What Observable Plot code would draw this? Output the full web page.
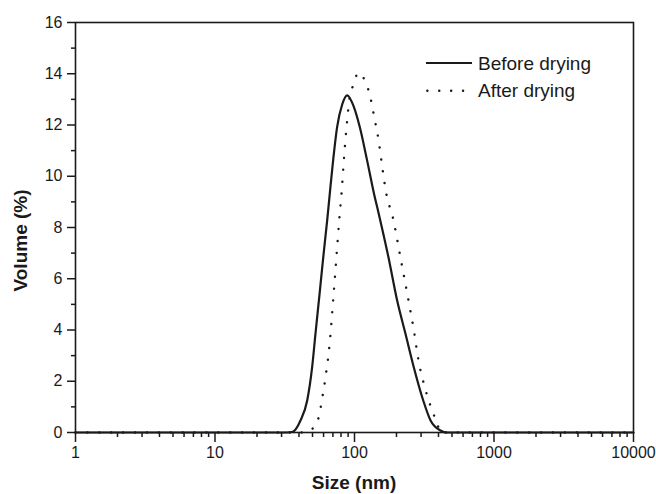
<!DOCTYPE html>
<html>
<head>
<meta charset="utf-8">
<script src="https://cdn.jsdelivr.net/npm/d3@7"></script>
<script src="https://cdn.jsdelivr.net/npm/@observablehq/plot@0.6"></script>
<style>
  html, body { margin: 0; padding: 0; background: #fff; }
  #wrap { position: relative; width: 656px; height: 494px; font-family: "Liberation Sans", Arial, sans-serif; }
  #overlay { position: absolute; left: 0; top: 0; pointer-events: none; }
</style>
</head>
<body>
<div id="wrap"></div>
<script>
// Series names
const seriesNames = ["Before drying", "After drying"];

// Before drying (solid)
const beforeSize = [1, 30, 35.7, 41, 45.8, 49.7, 52.5, 56.4, 60, 63.7, 66.5, 70.3, 75.1, 81.6, 88.7, 98.9, 109, 123, 138, 149, 175, 202, 232, 266, 311, 351, 413, 462, 10000];
const beforeVol  = [0, 0, 0.02, 0.47, 1.25, 2.55, 3.85, 5.5, 6.95, 8.28, 9.32, 10.63, 11.93, 12.8, 13.16, 12.71, 11.93, 10.63, 9.32, 8.55, 6.85, 5.16, 3.85, 2.55, 1.25, 0.47, 0.08, 0, 0];

// After drying (dotted)
const afterSize = [1, 42, 44.5, 52.5, 56.1, 58.3, 62, 66.5, 70, 74, 78, 80.7, 83.9, 87.7, 92.6, 97.8, 107, 121, 129, 134, 140, 150, 158, 169, 188, 214, 245, 264, 289, 319, 360, 392, 413, 10000];
const afterVol  = [0, 0, 0.02, 0.27, 0.73, 1.25, 2.16, 3.53, 5.03, 6.75, 8.4, 9.32, 10.63, 11.93, 13.1, 13.55, 14.04, 13.62, 13.16, 12.71, 12.19, 11.28, 10.37, 9.32, 8.41, 6.8, 5.09, 4.11, 2.75, 1.77, 0.86, 0.35, 0, 0];

// Tick labels
const xMajor = [1, 10, 100, 1000, 10000];
const xMinor = [];
for (const dec of [1, 10, 100, 1000]) for (let k = 2; k <= 9; k++) xMinor.push(dec * k);
const yMajor = [0, 2, 4, 6, 8, 10, 12, 14, 16];
const yMinor = [1, 3, 5, 7, 9, 11, 13, 15];

const xTitle = "Size (nm)";
const yTitle = "Volume (%)";

const before = beforeSize.map((s, i) => ({size: s, vol: beforeVol[i]}));
const after = afterSize.map((s, i) => ({size: s, vol: afterVol[i]}));

const ink = "#1a1a1a";
const fontStack = "'Liberation Sans', Arial, sans-serif";

const chart = Plot.plot({
  width: 656,
  height: 494,
  marginLeft: 75,
  marginRight: 23,
  marginTop: 22,
  marginBottom: 62,
  style: {fontFamily: fontStack, fontSize: "16px", color: ink, background: "#fff"},
  x: {type: "log", domain: [1, 10000]},
  y: {domain: [0, 16]},
  marks: [
    Plot.axisX(xMajor, {tickSize: 10, tickPadding: 4, tickFormat: d => String(d), label: null, stroke: ink, strokeWidth: 1.5, fontSize: 16}),
    Plot.axisX(xMinor, {tickSize: 5, tickFormat: () => "", label: null, stroke: ink, strokeWidth: 1.5}),
    Plot.axisY(yMajor, {tickSize: 8, tickPadding: 5, tickFormat: d => String(d), label: null, stroke: ink, strokeWidth: 1.5, fontSize: 16}),
    Plot.axisY(yMinor, {tickSize: 4, tickFormat: () => "", label: null, stroke: ink, strokeWidth: 1.5}),
    Plot.line(after, {x: "size", y: "vol", curve: "monotone-x", stroke: ink, strokeWidth: 2.4, strokeDasharray: "0.1 11.8", strokeLinecap: "round"}),
    Plot.line(before, {x: "size", y: "vol", curve: "monotone-x", stroke: ink, strokeWidth: 2.2}),
    Plot.frame({stroke: ink, strokeWidth: 1.6})
  ]
});

const wrap = document.getElementById("wrap");
wrap.appendChild(chart);

// Overlay: legend and axis titles
const ns = "http://www.w3.org/2000/svg";
const ov = document.createElementNS(ns, "svg");
ov.setAttribute("id", "overlay");
ov.setAttribute("width", 656);
ov.setAttribute("height", 494);

function addText(str, attrs) {
  const t = document.createElementNS(ns, "text");
  for (const k in attrs) t.setAttribute(k, attrs[k]);
  t.setAttribute("font-family", fontStack);
  t.setAttribute("fill", ink);
  t.textContent = str;
  ov.appendChild(t);
}

const legendRows = [
  {name: seriesNames[0], dash: null, y: 63, x1: 426, x2: 472},
  {name: seriesNames[1], dash: "0.1 11.8", y: 90.7, x1: 427.3, x2: 464}
];
legendRows.forEach((r) => {
  const ln = document.createElementNS(ns, "line");
  ln.setAttribute("x1", r.x1); ln.setAttribute("x2", r.x2);
  ln.setAttribute("y1", r.y); ln.setAttribute("y2", r.y);
  ln.setAttribute("stroke", ink);
  ln.setAttribute("stroke-width", r.dash ? 2.4 : 2.2);
  if (r.dash) { ln.setAttribute("stroke-dasharray", r.dash); ln.setAttribute("stroke-linecap", "round"); }
  ov.appendChild(ln);
  addText(r.name, {x: 478, y: r.y + 6.5, "font-size": "19px"});
});

addText(xTitle, {x: 354, y: 488.5, "text-anchor": "middle", "font-size": "19px", "font-weight": "bold"});
addText(yTitle, {transform: "translate(27,240.5) rotate(-90)", "text-anchor": "middle", "font-size": "19px", "font-weight": "bold"});

wrap.appendChild(ov);
</script>
</body>
</html>
